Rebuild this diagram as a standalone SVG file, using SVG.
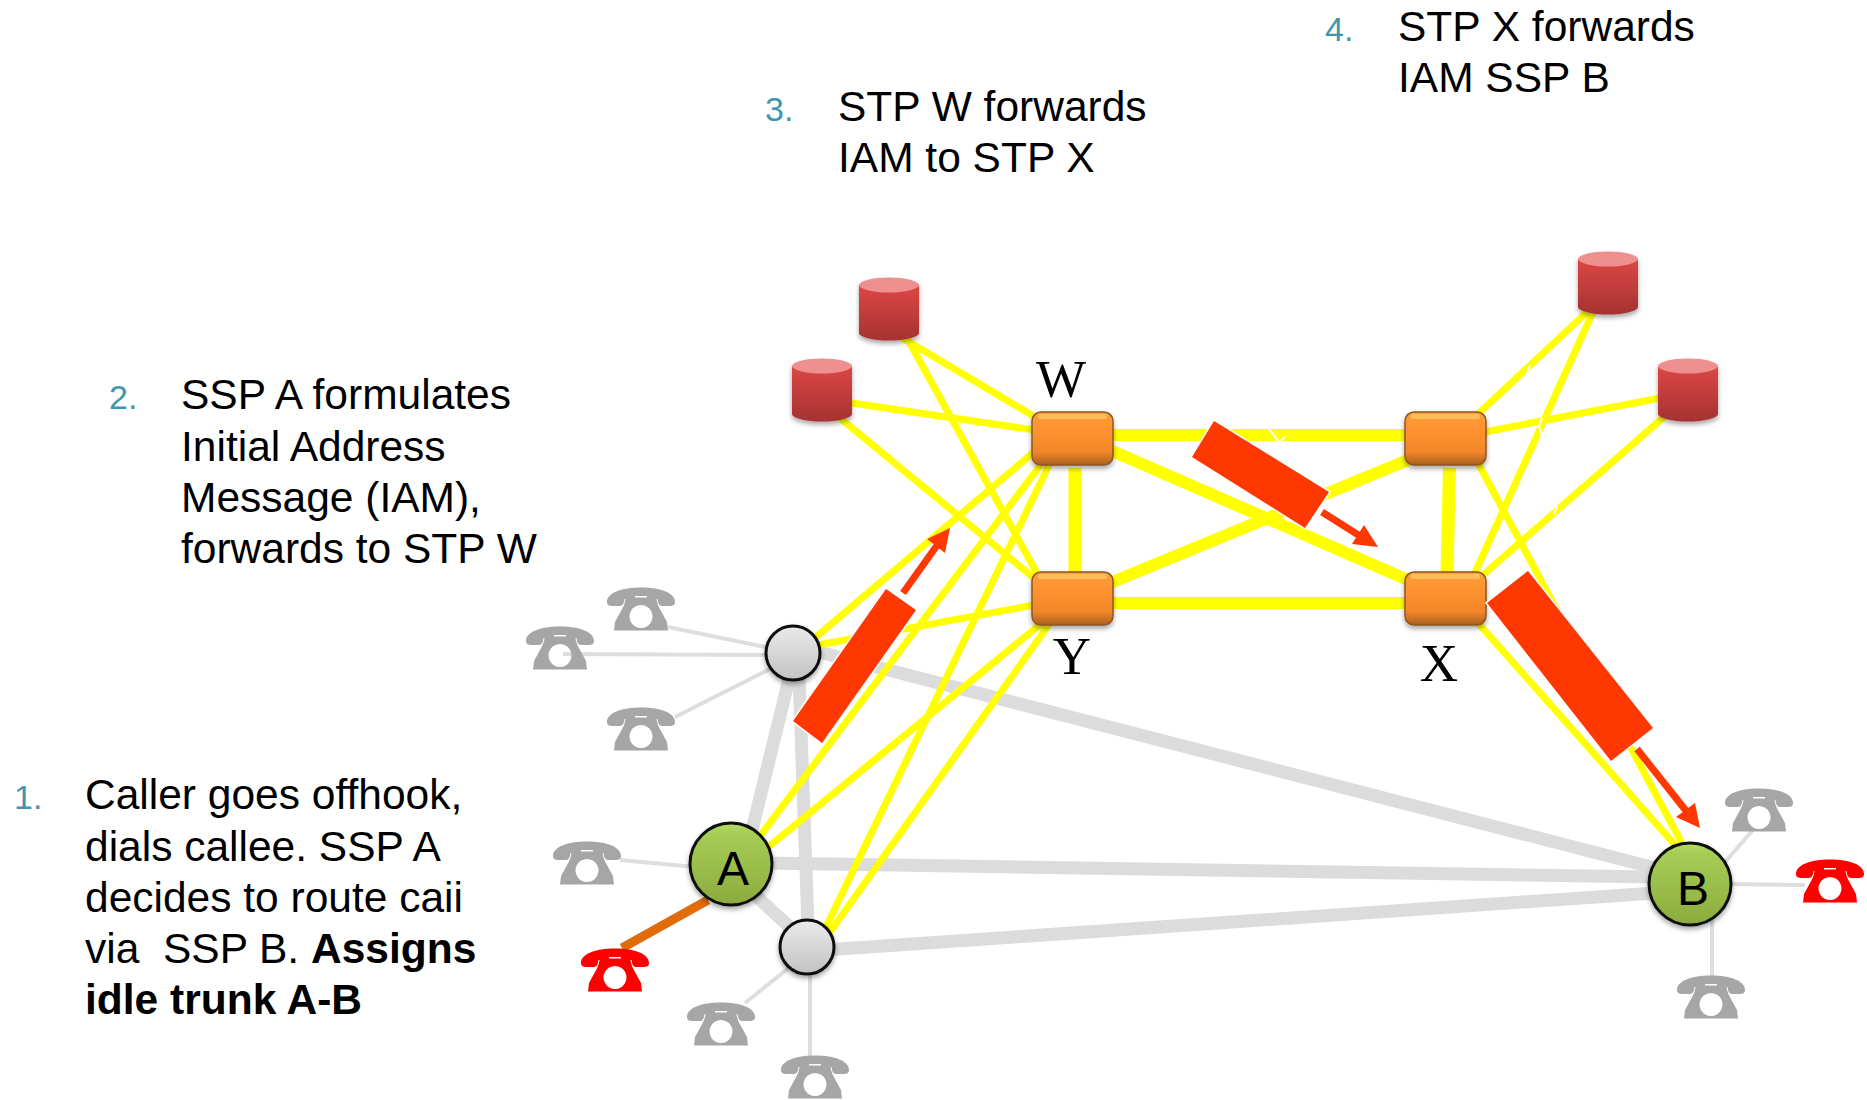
<svg xmlns="http://www.w3.org/2000/svg" width="1867" height="1100" viewBox="0 0 1867 1100">
<style>
text{font-family:"Liberation Sans",Arial,sans-serif;white-space:pre}
.t{font-size:42.500px;fill:#000}
.n{font-size:34px;fill:#3f97ae}
.b{font-weight:bold}
.lab{font-family:"Liberation Serif","Times New Roman",serif;font-size:53px;fill:#000;text-anchor:middle}
.ssp{font-size:48px;fill:#000;text-anchor:middle}
.y{stroke:#ffff00;stroke-width:7;fill:none}
.yt{stroke:#ffff00;stroke-width:12;fill:none}
.g{stroke:#dcdcdc;stroke-width:13;fill:none}
.gt{stroke:#dedede;stroke-width:4;fill:none}
.w{stroke:#fff;stroke-width:2;fill:none}
.bar{fill:#ff3700;stroke:#fff;stroke-width:3;paint-order:stroke}
.head{fill:#ff3700}
.shaft{stroke:#ff3700;stroke-width:7;fill:none}
.gray{fill:#a6a6a6}
.red{fill:#ff0000}
.stp{fill:url(#og);stroke:#8f5520;stroke-width:1.500;filter:url(#sh)}
.hl{fill:#ffc765;opacity:.75}
.cir{fill:url(#cg);stroke:#111;stroke-width:3;filter:url(#sh)}
.grn{fill:url(#ggr);stroke:#111;stroke-width:3;filter:url(#sh)}
.db{filter:url(#sh)}
</style>
<defs>
<linearGradient id="og" x1="0" y1="0" x2="0" y2="1"><stop offset="0" stop-color="#f8a13f"/><stop offset=".3" stop-color="#ff932e"/><stop offset=".75" stop-color="#f2872b"/><stop offset="1" stop-color="#a9601f"/></linearGradient>
<linearGradient id="cg" x1="0" y1="0" x2="0" y2="1"><stop offset="0" stop-color="#eaeaea"/><stop offset="1" stop-color="#c2c2c2"/></linearGradient>
<linearGradient id="ggr" x1="0" y1="0" x2="0" y2="1"><stop offset="0" stop-color="#b5dc66"/><stop offset=".12" stop-color="#a6ce55"/><stop offset="1" stop-color="#8cab3e"/></linearGradient>
<linearGradient id="cy" x1="0" y1="0" x2="0" y2="1"><stop offset="0" stop-color="#dc4744"/><stop offset="1" stop-color="#a63232"/></linearGradient>
<filter id="sh" x="-20%" y="-20%" width="140%" height="150%"><feDropShadow dx="0" dy="3" stdDeviation="2.500" flood-color="#000" flood-opacity=".35"/></filter>
<path id="ph" fill-rule="evenodd" d="M-34,-7 C-34,-16 -20,-21.500 0,-21.500 C20,-21.500 34,-16 34,-7 C34,-4 32,-3 28,-3 L21,-3 C18,-3 17,-6 16.500,-10 L15.500,-10 C16,-6 17.500,-2 20,2 L26,13 L27,21.500 L-27,21.500 L-26,13 L-20,2 C-17.500,-2 -16,-6 -15.500,-10 L-16.500,-10 C-17,-6 -18,-3 -21,-3 L-28,-3 C-32,-3 -34,-4 -34,-7 Z M0,-4 A11.500,11.500 0 1 0 0.010,-4 Z M-6,-13 L6,-13 L6,-11.500 L-6,-11.500 Z"/>
<g id="cyl"><path d="M-30,-24 V24 A30,7.500 0 0 0 30,24 V-24 Z" fill="url(#cy)"/><ellipse cx="0" cy="-24" rx="30" ry="7.500" fill="#ee9090"/></g>
</defs>
<rect width="1867" height="1100" fill="#fff"/>
<g id="connectors">
<g id="access-lines">
<line class="gt" x1="668" y1="627" x2="770" y2="648"/>
<line class="gt" x1="563" y1="654" x2="770" y2="655"/>
<line class="gt" x1="675" y1="717" x2="772" y2="668"/>
<line class="gt" x1="620" y1="860" x2="695" y2="867"/>
<line class="gt" x1="745" y1="1003" x2="790" y2="967"/>
<line class="gt" x1="810" y1="965" x2="810" y2="1056"/>
<line class="gt" x1="1753" y1="830" x2="1725" y2="862"/>
<line class="gt" x1="1730" y1="884" x2="1805" y2="885"/>
<line class="gt" x1="1712" y1="920" x2="1712" y2="977"/>
<line x1="622" y1="948" x2="708" y2="900" stroke="#e26b0a" stroke-width="9"/>
</g>
<g id="trunks">
<line class="g" x1="790" y1="675" x2="752" y2="830"/>
<line class="g" x1="799" y1="675" x2="808" y2="925"/>
<line class="g" x1="752" y1="892" x2="795" y2="932"/>
<line class="g" x1="815" y1="651" x2="1655" y2="868"/>
<line class="g" x1="765" y1="863" x2="1655" y2="877"/>
<line class="g" x1="825" y1="950" x2="1655" y2="893"/>
</g>
<g id="signalling-links">
<line class="y" x1="889" y1="330" x2="1040" y2="420"/>
<line class="y" x1="907" y1="338" x2="1038" y2="575"/>
<line class="y" x1="852" y1="403" x2="1034" y2="430"/>
<line class="y" x1="840" y1="418" x2="1034" y2="578"/>
<line class="y" x1="816" y1="637" x2="1034" y2="452"/>
<line class="y" x1="818" y1="645" x2="1034" y2="605"/>
<line class="y" x1="760" y1="836" x2="1042" y2="463"/>
<line class="y" x1="767" y1="848" x2="1042" y2="623"/>
<line class="y" x1="826" y1="927" x2="1050" y2="463"/>
<line class="y" x1="830" y1="932" x2="1050" y2="623"/>
<line class="y" x1="1587" y1="312" x2="1478" y2="414"/>
<line class="y" x1="1593" y1="312" x2="1474" y2="575"/>
<line class="y" x1="1660" y1="398" x2="1485" y2="432"/>
<line class="y" x1="1665" y1="416" x2="1483" y2="575"/>
<line class="y" x1="1478" y1="463" x2="1683" y2="845"/>
<line class="y" x1="1478" y1="623" x2="1676" y2="846"/>
<line class="yt" x1="1110" y1="435" x2="1408" y2="435"/>
<line class="yt" x1="1110" y1="603" x2="1408" y2="603"/>
<line class="yt" x1="1110" y1="450" x2="1408" y2="580"/>
<line class="yt" x1="1110" y1="583" x2="1408" y2="460"/>
<line class="yt" x1="1075" y1="468" x2="1075" y2="573" style="stroke-width:13"/>
<line class="yt" x1="1449.500" y1="468" x2="1447" y2="573" style="stroke-width:13"/>
<path class="w" d="M1530,365 l-3,8 M1542,418 l-3,8 l3,10 M1557,506 l-3,8 M1269,429 l10,13 l6,-5"/>
</g>
</g>
<g id="db1"><use class="db" href="#cyl" x="889" y="309"/></g>
<g id="db2"><use class="db" href="#cyl" x="822" y="390"/></g>
<g id="db3"><use class="db" href="#cyl" x="1608" y="283"/></g>
<g id="db4"><use class="db" href="#cyl" x="1688" y="390"/></g>
<g id="stp-w"><rect class="stp" x="1032" y="412" width="81" height="53" rx="9"/><rect class="hl" x="1038" y="414" width="69" height="5" rx="2.500"/><text class="lab" x="1061" y="397">W</text></g>
<g id="stp-y"><rect class="stp" x="1032" y="572" width="81" height="53" rx="9"/><rect class="hl" x="1038" y="574" width="69" height="5" rx="2.500"/><text class="lab" x="1072" y="674">Y</text></g>
<g id="stp-z"><rect class="stp" x="1405" y="412" width="81" height="53" rx="9"/><rect class="hl" x="1411" y="414" width="69" height="5" rx="2.500"/></g>
<g id="stp-x"><rect class="stp" x="1405" y="572" width="81" height="53" rx="9"/><rect class="hl" x="1411" y="574" width="69" height="5" rx="2.500"/><text class="lab" x="1439" y="681">X</text></g>
<g id="ssp-c"><circle class="cir" cx="793" cy="653" r="27"/></g>
<g id="ssp-d"><circle class="cir" cx="807" cy="947" r="27"/></g>
<g id="ssp-a"><circle class="grn" cx="731" cy="864" r="41"/><text class="ssp" x="733" y="885">A</text></g>
<g id="ssp-b"><circle class="grn" cx="1690" cy="884" r="41"/><text class="ssp" x="1693" y="905">B</text></g>
<g id="phones">
<use id="phone1" href="#ph" class="gray" x="641" y="609"/>
<use id="phone2" href="#ph" class="gray" x="560" y="648"/>
<use id="phone3" href="#ph" class="gray" x="641" y="729"/>
<use id="phone4" href="#ph" class="gray" x="587" y="863"/>
<use id="phone5" href="#ph" class="red" x="615" y="970"/>
<use id="phone6" href="#ph" class="gray" x="721" y="1024"/>
<use id="phone7" href="#ph" class="gray" x="815" y="1077"/>
<use id="phone8" href="#ph" class="gray" x="1759" y="810"/>
<use id="phone9" href="#ph" class="red" x="1830" y="881"/>
<use id="phone10" href="#ph" class="gray" x="1711" y="997"/>
</g>
<g id="messages">
<polygon class="bar" points="886,589 916,610 822,743 793,721"/>
<line class="shaft" x1="903" y1="593" x2="938" y2="544"/>
<polygon class="head" points="927,539 950,528 945,553"/>
<polygon class="bar" points="1214,421 1329,492 1305,528 1192,457"/>
<line class="shaft" x1="1322" y1="512" x2="1360" y2="536"/>
<polygon class="head" points="1352,544 1364,525 1378,547"/>
<polygon class="bar" points="1528,571 1653,728 1611,761 1487,603"/>
<line class="shaft" x1="1637" y1="749" x2="1687" y2="812"/>
<polygon class="head" points="1676,817 1695,803 1700,828"/>
</g>
<g id="step1">
<text class="n" x="14" y="809">1.</text>
<text class="t" x="85" y="809">Caller goes offhook,</text>
<text class="t" x="85" y="861">dials callee. SSP A</text>
<text class="t" x="85" y="912">decides to route caii</text>
<text class="t" x="85" y="963">via  SSP B. <tspan class="b">Assigns</tspan></text>
<text class="t b" x="85" y="1014">idle trunk A-B</text>
</g>
<g id="step2">
<text class="n" x="109" y="409">2.</text>
<text class="t" x="181" y="409">SSP A formulates</text>
<text class="t" x="181" y="461">Initial Address</text>
<text class="t" x="181" y="512">Message (IAM),</text>
<text class="t" x="181" y="563">forwards to STP W</text>
</g>
<g id="step3">
<text class="n" x="765" y="121">3.</text>
<text class="t" x="838" y="121">STP W forwards</text>
<text class="t" x="838" y="172">IAM to STP X</text>
</g>
<g id="step4">
<text class="n" x="1325" y="41">4.</text>
<text class="t" x="1398" y="41">STP X forwards</text>
<text class="t" x="1398" y="92">IAM SSP B</text>
</g>
</svg>
